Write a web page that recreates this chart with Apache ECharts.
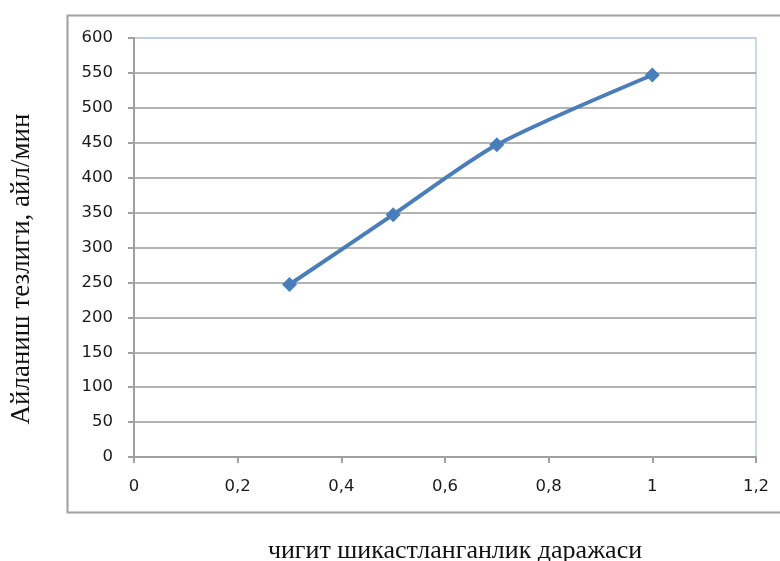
<!DOCTYPE html>
<html><head><meta charset="utf-8">
<script src="https://cdn.jsdelivr.net/npm/echarts@6/dist/echarts.min.js"></script>
<style>html,body{margin:0;padding:0;background:#fff}#c{width:780px;height:561px}</style>
</head><body><div id="c"></div>
<script>
const xValues = [0.3, 0.5, 0.7, 1.0];
const yValues = [247, 347, 447, 547];
const xTitle = 'чигит шикастланганлик даражаси';
const yTitle = 'Айланиш тезлиги, айл/мин';

const gridColors = [];
for (let i = 0; i < 12; i++) gridColors.push('#9a9a9a');
gridColors.push('#b9cde5');

const chart = echarts.init(document.getElementById('c'), null, {renderer: 'canvas'});
chart.setOption({
  animation: false,
  backgroundColor: '#fff',
  grid: {left: 134, right: 24, top: 38, bottom: 104, show: true, borderColor: '#b9cde5', borderWidth: 1.5, backgroundColor: 'transparent'},
  xAxis: {
    type: 'value', min: 0, max: 1.2, interval: 0.2,
    axisLine: {show: true, onZero: false, lineStyle: {color: '#a0a0a0', width: 2}},
    axisTick: {show: true, length: 6, lineStyle: {color: '#a0a0a0', width: 2}},
    splitLine: {show: false},
    axisLabel: {margin: 21, color: '#1a1a1a', fontSize: 16.5, fontFamily: 'DejaVu Sans',
      formatter: v => String(Math.round(v * 10) / 10).replace('.', ',')}
  },
  yAxis: {
    type: 'value', min: 0, max: 600, interval: 50,
    axisLine: {show: true, lineStyle: {color: '#a0a0a0', width: 2}},
    axisTick: {show: true, length: 6, lineStyle: {color: '#a0a0a0', width: 2}},
    splitLine: {show: true, lineStyle: {color: gridColors, width: 1.5}},
    axisLabel: {margin: 21, color: '#1a1a1a', fontSize: 16.5, fontFamily: 'DejaVu Sans'}
  },
  graphic: [
    {type: 'rect', shape: {x: 67.5, y: 15.5, width: 760, height: 497}, style: {fill: 'none', stroke: '#a0a0a0', lineWidth: 2}, z: -1, silent: true},
    {type: 'text', x: 22, y: 269, rotation: Math.PI / 2, style: {text: yTitle, font: '27px "Liberation Serif"', fill: '#111', align: 'center', verticalAlign: 'middle'}},
    {type: 'text', x: 455, y: 551, style: {text: xTitle, font: '26px "Liberation Serif"', fill: '#111', align: 'center', verticalAlign: 'middle'}}
  ],
  series: [{
    type: 'line',
    data: xValues.map((x, i) => [x, yValues[i]]),
    smooth: 0.25,
    symbol: 'diamond', symbolSize: 15,
    lineStyle: {color: '#4a7ebb', width: 4},
    itemStyle: {color: '#4a7ebb'}
  }]
});
</script></body></html>
